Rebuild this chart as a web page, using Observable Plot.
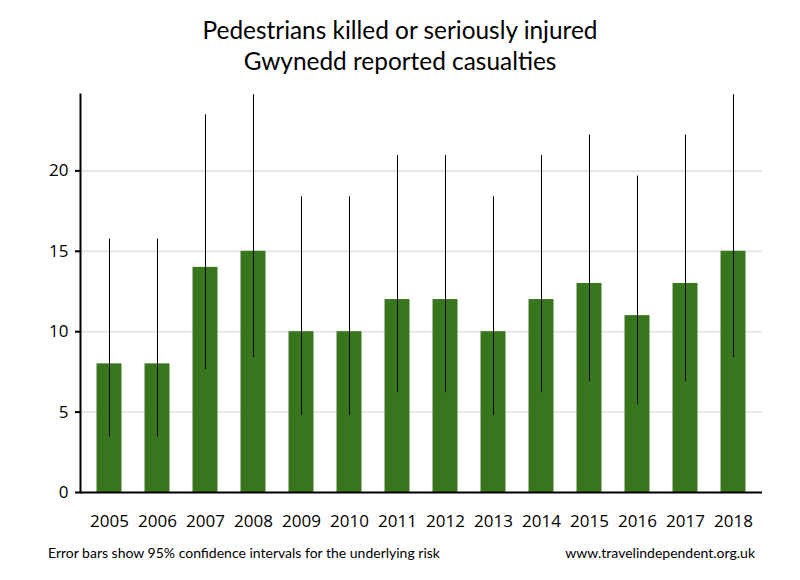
<!DOCTYPE html>
<html>
<head>
<meta charset="utf-8">
<script src="https://cdn.jsdelivr.net/npm/d3@7"></script>
<script src="https://cdn.jsdelivr.net/npm/@observablehq/plot@0.6"></script>
<style>
  body { margin: 0; background: #fff; font-family: Lato, "Open Sans", sans-serif; }
  #wrap { position: relative; width: 800px; height: 580px; overflow: hidden; }
  #title { position: absolute; left: 0; top: 14px; width: 800px; text-align: center; font-size: 24.4px; line-height: 31px; color: #000; }
  #chart { position: absolute; left: 0; top: 80px; }
  .foot { position: absolute; top: 544px; font-size: 14px; color: #000; }
</style>
</head>
<body>
<div id="wrap">
  <div id="title">Pedestrians killed or seriously injured<br>Gwynedd reported casualties</div>
  <div id="chart"></div>
  <div class="foot" style="left:48px;">Error bars show 95% confidence intervals for the underlying risk</div>
  <div class="foot" style="right:45px;">www.travelindependent.org.uk</div>
</div>
<script>
const years = ["2005","2006","2007","2008","2009","2010","2011","2012","2013","2014","2015","2016","2017","2018"];
const casualties = [8, 8, 14, 15, 10, 10, 12, 12, 10, 12, 13, 11, 13, 15];
const lower = [3.45, 3.45, 7.65, 8.4, 4.8, 4.8, 6.2, 6.2, 4.8, 6.2, 6.92, 5.49, 6.92, 8.4];
const upper = [15.76, 15.76, 23.49, 24.74, 18.39, 18.39, 20.96, 20.96, 18.39, 20.96, 22.23, 19.68, 22.23, 24.74];
const yTicks = [0, 5, 10, 15, 20];

const data = years.map((y, i) => ({year: y, value: casualties[i], lo: lower[i], hi: upper[i]}));

const tickFont = "'Open Sans', Lato, sans-serif";

const chart = Plot.plot({
  width: 800,
  height: 460,
  marginTop: 14,
  marginBottom: 48,
  marginLeft: 80,
  marginRight: 38,
  style: {fontFamily: tickFont, fontSize: "17px", color: "#000", background: "#fff"},
  x: {type: "band", domain: years, paddingInner: 0.48, paddingOuter: 0.344, align: 0.5, round: false},
  y: {domain: [0, 24.75]},
  marks: [
    Plot.gridY(yTicks.filter(d => d > 0), {stroke: "#e6e6e6", strokeOpacity: 1, strokeWidth: 2}),
    Plot.barY(data, {x: "year", y: "value", fill: "#38761d"}),
    Plot.ruleX(data, {x: "year", y1: "lo", y2: "hi", stroke: "#000", strokeWidth: 1}),
    Plot.frame({anchor: "left", stroke: "#000", strokeWidth: 2}),
    Plot.ruleY([0], {stroke: "#000", strokeWidth: 2}),
    Plot.axisY({ticks: yTicks, tickSize: 5, tickPadding: 7, tickFormat: d => String(d), strokeWidth: 2, stroke: "#000", label: null, fontSize: 17}),
    Plot.axisX({tickSize: 0, tickPadding: 22, label: null, fontSize: 17})
  ]
});
document.getElementById("chart").appendChild(chart);
</script>
</body>
</html>
